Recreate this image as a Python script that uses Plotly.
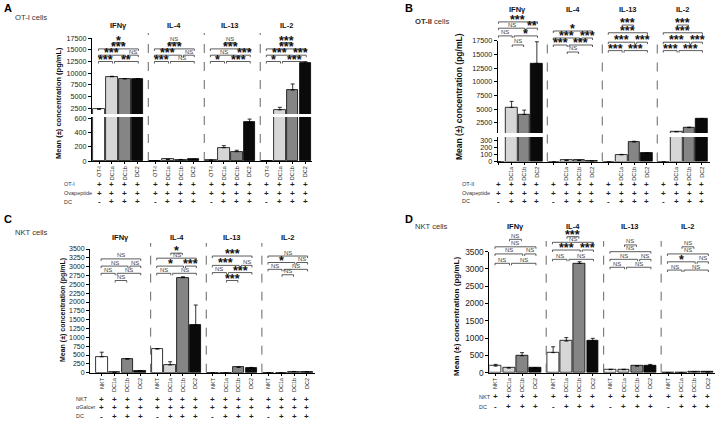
import plotly.graph_objects as go

W, H = 719, 422
GS = 4.35  # distance between cytokine groups, in bar slots
FONT = "Liberation Sans, Arial, sans-serif"

CYTOKINES = ["IFNγ", "IL-4", "IL-13", "IL-2"]
PAIRS = [(0, 1), (1, 3), (0, 2), (2, 3), (0, 3), (1, 2)]
BAR_COLORS = ["#ffffff", "#d6d6d6", "#858585", "#0a0a0a"]

# A - OT-I cells
A_TICKS = ["OT-I", "DC1a", "DC1b", "DC2"]
A_VALUES = [2200, 9200, 8750, 8750, 0, 23, 20, 22, 10, 185, 130, 540, 0, 2100, 6350, 12100]
A_TOPS = [2350, 9300, 8800, 8800, 0, 26, 22, 24, 12, 214, 150, 585, 0, 2650, 7650, 12400]
A_ROWS = ["OT-I", "Ovapeptide", "DC"]
A_SIGNS = [["+"] * 16, ["+"] * 16, ["-", "+", "+", "+"] * 4]
A_LABELS = [["***", "**", "***", "NS", "***", "*"],
            ["***", "NS", "***", "NS", "***", "NS"],
            ["*", "***", "NS", "***", "***", "NS"],
            ["*", "***", "***", "***", "***", "***"]]
A_LEVELS = [[0, 0, 1, 1, 2, 3]] * 4

# B - OT-II cells
B_TICKS = ["", "DC1a", "DC1b", "DC2"]
B_VALUES = [0, 5300, 4000, 13350, 0, 15, 15, 5, 0, 95, 275, 115, 0, 850, 1600, 3150]
B_TOPS = [0, 6400, 4800, 17300, 0, 18, 18, 6, 0, 100, 285, 120, 0, 880, 1680, 3250]
B_ROWS = ["OT-II", "Ovapeptide", "DC"]
B_SIGNS = [["+"] * 16, ["+"] * 16, ["-", "+", "+", "+"] * 4]
B_LABELS = [["NS", "*", "NS", "**", "***", "NS"],
            ["***", "***", "***", "***", "*", "NS"],
            ["***"] * 6,
            ["***"] * 6]
B_LEVELS = [[2.3, 2.3, 3.4, 3.4, 4.3, 1.0],
            [1, 1, 2, 2, 3, 0],
            [0.2, 0.2, 1.4, 1.4, 2.75, 3.85],
            [0.2, 0.2, 1.4, 1.4, 2.75, 3.85]]

# C - NKT cells + aGalcer
C_TICKS = ["NKT", "DC1a", "DC1b", "DC2"]
C_VALUES = [450, 10, 380, 50, 670, 220, 2690, 1350, 0, 0, 150, 125, 0, 0, 30, 20]
C_TOPS = [580, 12, 400, 60, 680, 310, 2715, 1915, 0, 0, 165, 150, 0, 0, 35, 25]
C_ROWS = ["NKT", "αGalcer", "DC"]
C_SIGNS = [["+"] * 16, ["+"] * 16, ["-", "+", "+", "+"] * 4]
C_LABELS = [["NS"] * 6,
            ["NS", "NS", "*", "***", "NS", "*"],
            ["NS", "***", "***", "NS", "***", "***"],
            ["NS", "NS", "*", "NS", "NS", "NS"]]
C_LEVELS = [[1, 1, 2, 2, 3, 0],
            [1, 1, 2, 2, 3.1, 3.8],
            [1.1, 1.1, 2.1, 2.1, 3.4, 0],
            [1.55, 1.55, 2.5, 2.5, 3.4, 0.8]]

# D - NKT cells
D_TICKS = ["NKT", "DC1a", "DC1b", "DC2"]
D_VALUES = [190, 135, 490, 135, 580, 915, 3160, 925, 87, 87, 190, 210, 0, 0, 25, 18]
D_TOPS = [240, 145, 580, 145, 750, 1015, 3210, 995, 100, 100, 200, 240, 0, 0, 30, 22]
D_ROWS = ["NKT", "DC"]
D_SIGNS = [["+"] * 16, ["-", "+", "+", "+"] * 4]
D_LABELS = [["NS"] * 6,
            ["NS", "NS", "***", "***", "NS", "***"],
            ["NS"] * 6,
            ["NS", "NS", "*", "NS", "NS", "NS"]]
D_LEVELS = [[0, 0, 1.25, 1.25, 2.2, 3.2],
            [0.53, 0.53, 1.77, 1.77, 2.8, 3.55],
            [-0.53, -0.53, 0.53, 0.53, 1.55, 2.45],
            [-0.9, -0.9, 0.2, 0.2, 1.25, 2.2]]

# panel geometry, in pixels of the 719x422 page
GEO_A = dict(xdom=(92, 312), xrng=(-0.55, 16.55),
             ysegs=[((117, 161), (0, 614), [0, 200, 400, 600]),
                    ((38, 114), (1214, 17500), [2500, 5000, 7500, 10000, 12500, 15000, 17500])],
             bdom=(14, 80), b0=61.5, bstep=6.3, title_y=25, dash=(33, 161),
             rows_y=(184, 193, 202), rows_x=62, ylab=(58, 103, 7.5), tfs=7.2,
             letter=("A", 2, 0), cells=("OT-I cells", 13, 17.5))
GEO_B = dict(xdom=(497.7, 710), xrng=(-0.1, 16.7),
             ysegs=[((137, 161.5), (0, 345), [0, 100, 200, 300]),
                    ((40.7, 133), (620, 17500), [2500, 5000, 7500, 10000, 12500, 15000, 17500])],
             bdom=(4, 62), b0=52, bstep=7, title_y=9, dash=(42, 161.5),
             rows_y=(184, 193, 201), rows_x=460, ylab=(459, 97, 8.5), tfs=7.2,
             letter=("B", 403, 0), cells=("<b>OT-II</b> cells", 413, 21))
GEO_C = dict(xdom=(90, 315), xrng=(-0.92, 16.68),
             ysegs=[((249, 372.7), (0, 3500), list(range(0, 3501, 250)))],
             bdom=(236, 292), b0=280.5, bstep=7.2, title_y=237, dash=(243, 372.7),
             rows_y=(399, 407, 416), rows_x=74, ylab=(63, 310, 7), tfs=7,
             letter=("C", 2, 211), cells=("NKT cells", 13, 232))
GEO_D = dict(xdom=(489.3, 715), xrng=(-0.48, 16.6),
             ysegs=[((251.7, 372.7), (0, 3500), list(range(0, 3501, 500)))],
             bdom=(222, 282), b0=263.3, bstep=7.5, title_y=226, dash=(241, 372.7),
             rows_y=(396.7, 406.7), rows_x=477, ylab=(456, 317, 8), tfs=8.3,
             letter=("D", 403, 211), cells=("NKT cells", 413, 227))


def px(v):
    return v / W


def py(v):
    return 1 - v / H


def ref(letter, n):
    return (letter if n == 1 else f"{letter}{n}"), (f"{letter}axis" if n == 1 else f"{letter}axis{n}")


fig = go.Figure()
layout = {}
annotations = []
shapes = []
counter = {"x": 0, "y": 0}


def note(**kw):
    kw.setdefault("showarrow", False)
    kw.setdefault("xanchor", "center")
    kw.setdefault("yanchor", "middle")
    annotations.append(kw)


def add_panel(geo, ticks, values, tops, rows, signs, labels, levels):
    counter["x"] += 1
    xr, xk = ref("x", counter["x"])
    pos = [g * GS + i for g in range(4) for i in range(4)]
    colors = BAR_COLORS * 4
    errs = [t - v for t, v in zip(tops, values)]

    yrefs = []
    for dom, rng, tv in geo["ysegs"]:
        counter["y"] += 1
        yr, yk = ref("y", counter["y"])
        yrefs.append(yr)
        layout[yk] = dict(domain=[py(dom[1]), py(dom[0])], range=list(rng), tickvals=tv,
                          tickformat="d", anchor=xr, showline=True, linecolor="black",
                          linewidth=1, ticks="outside", ticklen=3, tickwidth=1,
                          tickcolor="black", tickfont=dict(size=geo["tfs"], color="#222"),
                          showgrid=False, zeroline=False)
        fig.add_trace(go.Bar(x=pos, y=values, xaxis=xr, yaxis=yr, width=0.9,
                             marker=dict(color=colors, line=dict(color="black", width=0.8)),
                             error_y=dict(type="data", symmetric=False, array=errs,
                                          arrayminus=[0] * 16, color="black",
                                          thickness=0.8, width=2),
                             showlegend=False, hoverinfo="skip"))

    layout[xk] = dict(domain=[px(geo["xdom"][0]), px(geo["xdom"][1])], range=list(geo["xrng"]),
                      anchor=yrefs[0], tickvals=pos, ticktext=ticks * 4, tickangle=-90,
                      tickfont=dict(size=5.5, color="#222"), ticks="outside", ticklen=2,
                      tickcolor="black", showline=True, linecolor="black", linewidth=1,
                      showgrid=False, zeroline=False)

    # significance brackets on a hidden axis
    counter["y"] += 1
    br, bk = ref("y", counter["y"])
    top_px, bot_px = geo["bdom"]
    y0, step = geo["b0"], geo["bstep"]
    layout[bk] = dict(domain=[py(bot_px), py(top_px)],
                      range=[(y0 - bot_px) / step, (y0 - top_px) / step],
                      anchor=xr, visible=False)
    drop = 2.0 / step
    xs, ys = [], []
    for g in range(4):
        for (i, j), lab, lev in zip(PAIRS, labels[g], levels[g]):
            a = g * GS + i - 0.05 + (0.25 if (i > 0 and j == 3) else 0) + (0.1 if (i, j) == (1, 2) else 0)
            b = g * GS + j + 0.05 - (0.1 if (i, j) == (1, 2) else 0)
            xs += [a, a, b, b, None]
            ys += [lev - drop, lev, lev, lev - drop, None]
            star = "*" in lab
            note(x=(a + b) / 2, y=lev, xref=xr, yref=br, text=lab, yanchor="bottom",
                 yshift=-7 if star else -1.5,
                 font=dict(size=12.5 if star else 6, color="#111" if star else "#444",
                           family=FONT, weight="bold" if star else "normal"))
    fig.add_trace(go.Scatter(x=xs, y=ys, xaxis=xr, yaxis=br, mode="lines",
                             line=dict(color="#333", width=0.8),
                             hoverinfo="skip", showlegend=False))

    for g, name in enumerate(CYTOKINES):
        note(x=g * GS + 1.5, y=py(geo["title_y"]), xref=xr, yref="paper",
             text=f"<b>{name}</b>", font=dict(size=7.5, color="#111", family=FONT))
        if g > 0:
            xd = g * GS - (GS - 3) / 2 + 0.15
            shapes.append(dict(type="line", xref=xr, yref="paper", x0=xd, x1=xd,
                               y0=py(geo["dash"][1]), y1=py(geo["dash"][0]),
                               line=dict(color="#666", width=1, dash="dash")))

    for r, name in enumerate(rows):
        yy = py(geo["rows_y"][r])
        note(x=px(geo["rows_x"]), y=yy, xref="paper", yref="paper", xanchor="left",
             text=name, font=dict(size=5.5, color="#333", family=FONT))
        for k, s in enumerate(signs[r]):
            note(x=pos[k], y=yy, xref=xr, yref="paper", text=s,
                 font=dict(size=8, color="#222", family=FONT, weight="bold"))

    lx, lyy, lsz = geo["ylab"]
    note(x=px(lx), y=py(lyy), xref="paper", yref="paper", textangle=-90,
         text="<b>Mean (±) concentration (pg/mL)</b>",
         font=dict(size=lsz, color="#111", family=FONT))
    letter, ax_, ay_ = geo["letter"]
    note(x=px(ax_), y=py(ay_), xref="paper", yref="paper", xanchor="left", yanchor="top",
         text=f"<b>{letter}</b>", font=dict(size=11, color="#000", family=FONT))
    cells, cx, cy = geo["cells"]
    note(x=px(cx), y=py(cy), xref="paper", yref="paper", xanchor="left",
         text=cells, font=dict(size=7.6, color="#333", family=FONT))


add_panel(GEO_A, A_TICKS, A_VALUES, A_TOPS, A_ROWS, A_SIGNS, A_LABELS, A_LEVELS)
add_panel(GEO_B, B_TICKS, B_VALUES, B_TOPS, B_ROWS, B_SIGNS, B_LABELS, B_LEVELS)
add_panel(GEO_C, C_TICKS, C_VALUES, C_TOPS, C_ROWS, C_SIGNS, C_LABELS, C_LEVELS)
add_panel(GEO_D, D_TICKS, D_VALUES, D_TOPS, D_ROWS, D_SIGNS, D_LABELS, D_LEVELS)

fig.update_layout(template="none", width=W, height=H, margin=dict(l=0, r=0, t=0, b=0),
                  paper_bgcolor="white", plot_bgcolor="rgba(0,0,0,0)",
                  font=dict(family=FONT, color="#222"), bargap=0,
                  annotations=annotations, shapes=shapes, **layout)

# the page body has a default 8px margin; drop it so the figure sits at 0,0
fig.write_html("out.html", config={"displayModeBar": False},
               post_script="document.body.style.margin='0';document.body.style.padding='0';")
